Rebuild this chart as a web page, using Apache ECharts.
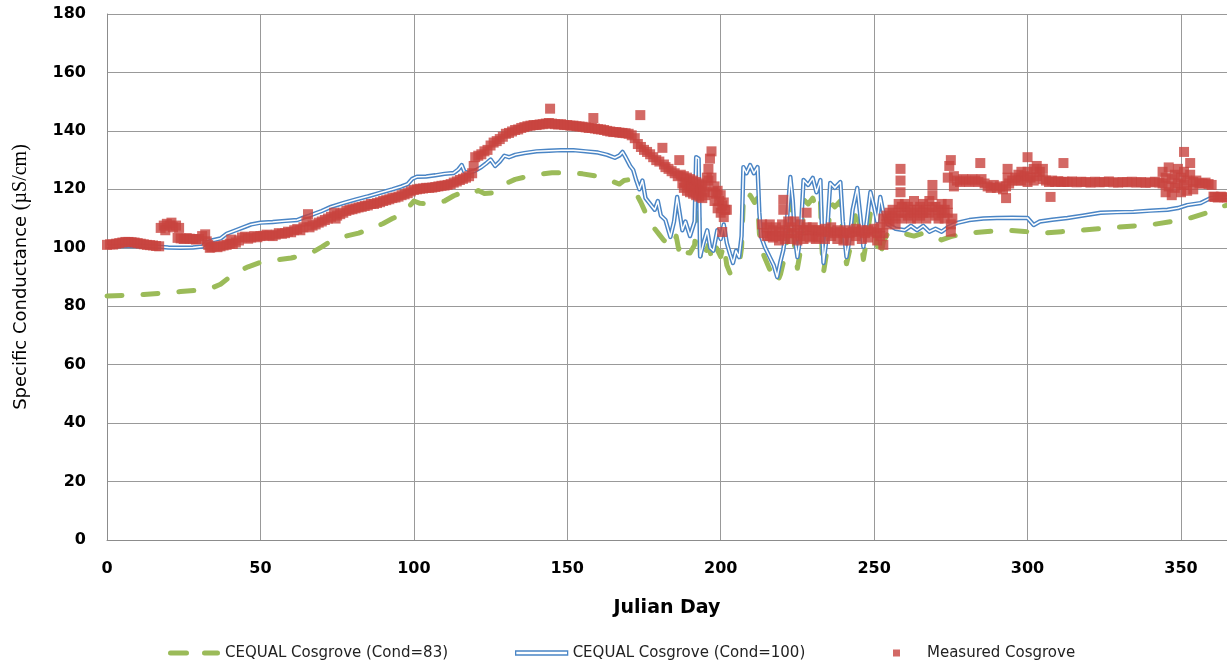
<!DOCTYPE html>
<html>
<head>
<meta charset="utf-8">
<title>Specific Conductance – Cosgrove</title>
<script src="https://cdn.jsdelivr.net/npm/echarts@6/dist/echarts.min.js"></script>
<style>
  html, body { margin: 0; padding: 0; background: #fff; }
  #chart { width: 1227px; height: 662px; }
</style>
</head>
<body>
<div id="chart"></div>
<script>
// Axis ranges and tick spacing
const dayMin = 0, dayMax = 365, dayStep = 50;
const condMin = 0, condMax = 180, condStep = 20;

// Modelled specific conductance, initial condition 83 µS/cm  [julian day, value]
const cond83 = [
  [0,83.5],[6,83.7],[12,84],[18,84.5],[24,85],[30,85.5],[34,86.2],[37,87.5],[40,90],[43,92],[46,93.5],[50,95],
  [55,95.8],[60,96.5],[64,97.5],[67,98.5],[70,100.3],[73,102.3],[77,103.8],[82,105],[86,106.5],[90,108.3],[93,110],
  [96,111.5],[98,113.5],[100,116],[102,115.2],[106,115],[110,116],[113,117.8],[116,119],[119,118.5],[121,119.6],
  [123,118.6],[126,118.8],[128,120.6],[130,122],[133,123.4],[137,124.4],[141,125.2],[145,125.7],[150,125.7],
  [155,125.3],[159,124.6],[162,123.8],[165,122.6],[167,121.8],[168.5,123],[170,123.3],[171.3,121],[172.5,118.5],
  [174,115.5],[175.5,112],[177,108.5],[178.5,106.5],[180,104.5],[181.5,102.5],[183,101.5],[184.5,100.3],[185.5,104],
  [186.3,99.5],[187.5,102],[188.5,98.5],[190,98.2],[191.5,101],[192.2,112],[192.9,110],[193.5,94.8],[195,98],
  [196,101],[197.3,95.5],[198.6,100],[200,97],[201,101],[202,94],[203,91.4],[204.5,92],[206,94],[206.8,100],
  [207.4,117],[208.5,115.5],[209.6,118],[211,115.5],[212,117],[212.6,105],[213.4,99],[214.6,96],[216,92.5],
  [217.3,90.5],[218.4,88],[219.5,91],[220.4,95],[221.5,102],[222.7,116],[223.6,109],[224.2,98],[225,93],[226,99],
  [227,116.5],[228.5,115],[230,117],[231.2,113],[232.5,116],[233,100],[233.5,91.5],[234.6,99],[235.7,115.5],
  [237.2,114],[239,116],[239.8,103],[241,94.5],[242,99],[243,107],[244.5,114],[245.5,105],[246.5,96],[247.6,103],
  [248.8,112],[250,107],[251,101],[252,96.5],[253,102],[254.5,105],[257,104.5],[260,104.8],[263,104],[266,105],
  [269,104],[272,102.7],[275,103.8],[280,105],[286,105.5],[293,106],[299,105.6],[305,105],[311,105.5],[317,106],
  [323,106.5],[329,107],[335,107.5],[341,108],[347,109],[353,110.2],[358,111.8],[363,114],[365,114.6]
];

// Modelled specific conductance, initial condition 100 µS/cm  [julian day, value]
const cond100 = [
  [0,100.5],[4,100.6],[8,100.7],[12,100.6],[16,100.4],[20,100.1],[24,100.0],[28,100.1],[31,100.4],[32.5,101.8],
  [34.5,102.6],[37,103.2],[39,104.8],[42,106],[44.5,107],[47,108],[50,108.6],[54,108.8],[58,109.2],[62,109.5],
  [64,110.3],[66,111],[68,111.8],[70,112.6],[73,114],[77,115.3],[81,116.5],[85,117.6],[89,118.8],[93,120],[96,121],
  [98,121.8],[99.5,123.6],[101,124.3],[104,124.4],[107,124.8],[110,125.3],[113,125.6],[114.5,126.8],[115.6,128.3],
  [116.5,126],[118,125.6],[120,126.4],[122,127.6],[123.5,128.8],[125,130.2],[126.5,128],[128,129.5],[129.5,131.5],
  [131,131],[133,131.8],[136,132.4],[140,133],[144,133.2],[148,133.4],[152,133.4],[156,133],[160,132.6],[163,131.8],
  [165.5,130.8],[167,131.6],[168,132.8],[169,131],[170.5,128],[171.5,126.6],[172.5,123],[173.5,120],[174.5,123],
  [175.5,117],[177,115],[178.5,113],[179.5,116],[180.5,111],[182,109.5],[183.6,103.7],[184.8,109],[185.8,117.4],
  [186.6,112],[187.5,106],[188.5,109],[190,104],[191.5,109],[192,131],[192.8,130.5],[193.3,97],[194.5,102],
  [195.6,106],[196.6,100],[197.6,99],[198.9,106],[200,103],[201,108],[202,101.6],[203,98],[204,94.8],[205,99],
  [206,96.8],[206.8,104],[207.4,127.6],[208.4,125.5],[209.6,128.3],[210.8,125.5],[212,127.6],[212.6,112],
  [213.2,103.7],[214.5,100],[216,96.8],[217.3,94],[218.4,90],[219.4,95],[220.4,99.2],[221.5,108],[222.7,124.2],
  [223.5,116],[224.2,103],[225,96.8],[226,104],[227,123.2],[228.5,121.5],[230,123.9],[231.2,119],[232.5,123.2],
  [233,106],[233.5,94.8],[234.6,104],[235.7,122.2],[237.2,120.5],[239,122.5],[239.8,109],[241,96.8],[242,103],
  [243,113],[244.5,120.5],[245.5,111],[246.5,100.3],[247.6,109],[248.8,119.1],[250,114],[251,109],[252,117.4],
  [253,112],[254.5,108],[257,106.5],[260,106],[262,107.5],[264,106],[266,107.5],[268,105.5],[270,106.5],[272,105.5],
  [274,107],[277,108.5],[281,109.5],[285.6,110],[290,110.2],[295,110.3],[300,110.2],[302,107.8],[304,109],[308,109.6],
  [313,110.2],[318,111],[323.8,112],[329,112.2],[334.6,112.3],[340,112.7],[345.6,113],[349,113.6],[352,114.6],
  [356.4,115.3],[359.6,117],[365,117.4]
];

// Measured specific conductance at Cosgrove  [julian day, value]
const measured = [
  [0,101],[1,101.2],[2,101.1],[3,101.4],[4,101.6],[5,101.8],[6,102],[7,102],[8,101.9],[9,101.8],[10,101.6],
  [11,101.4],[12,101.2],[13,101],[14,100.9],[15,100.8],[16,100.6],[17,100.5],
  [17.5,106.8],[18.5,107.6],[19.5,108.2],[20.5,107.6],[21.5,107],[22.5,107.6],[23.5,106.8],[19,106],[21,108.6],
  [23,103.4],[24,103.2],[25,103],[26,103.3],[27,103.1],[28,103],[29,102.8],[30,103],[31,104],[32,104.6],[32.5,102.2],
  [33,101],[33.5,100],[34,100.2],[35,100.5],[36,100.2],[37,100.5],[38,100.8],[39,101],[40,101.4],[40.5,102.8],
  [41,101.3],[42,101.8],[43,102.5],[44,103.5],[45,103.8],[46,103.1],[47,103.5],[48,104],[49,103.6],[50,104],
  [51,104.1],[52,104.5],[53,104.2],[54,104],[55,104.5],[56,105],[57,104.8],[58,105],[59,105.5],[60,105.3],[61,106],
  [62,106.4],[63,106],[64,107],[65,109],[65.5,111.5],[66,107],[67,107.6],[68,108],[69,108.6],[70,109],[71,109.5],
  [72,110],[73,110.6],[74,112],[74.5,110],[75,111],[76,111.5],[77,112],[78,112.6],[79,113],[80,113.2],[81,113.5],
  [82,113.8],[83,114],[84,114.3],[85,114.5],[86,115],[87,115],[88,115.3],[89,115.6],[90,116],[91,116.3],[92,116.6],
  [93,117],[94,117.2],[95,117.5],[96,118],[97,118.3],[98,118.7],[99,119.3],[100,119.8],[101,120],[102,120.2],
  [103,120.3],[104,120.5],[105,120.5],[106,120.6],[107,120.8],[108,121],[109,121.2],[110,121.3],[111,121.5],
  [112,121.8],[113,122.3],[114,122.7],[115,123.2],[116,123.6],[117,124],[118,124.5],[119,125.5],[119.5,128],
  [120,131],[121,131.5],[122,132],[123,133],[124,133.5],[125,135],[126,136],[127,136.5],[128,137.2],[129,138],
  [130,139],[131,139.3],[132,139.8],[133,140.3],[134,140.5],[135,141],[136,141.3],[137,141.6],[138,141.8],[139,142],
  [140,142],[141,142.2],[142,142.3],[143,142.5],[144,142.7],[144.4,147.6],[145,142.5],[146,142.3],[147,142.2],
  [148,142.3],[149,142],[150,142],[151,141.8],[152,141.8],[153,141.6],[154,141.5],[155,141.4],[156,141.2],[157,141],
  [158,141],[158.5,144.4],[159,140.8],[160,140.6],[161,140.5],[162,140.3],[163,140],[164,139.8],[165,139.6],
  [166,139.6],[167,139.4],[168,139.3],[169,139.2],[170,139],[171,138.5],[172,137.5],[173,135.5],[173.8,145.4],
  [174,134.5],[175,133.5],[176,132.8],[177,132],[178,131],[179,130],[180,129.5],[181,134.2],[181.5,128.5],
  [182,127.6],[183,127],[184,126.2],[185,125.5],[186,124.5],[186.5,130],[187,125],[187.5,122],[188,124.5],[188,120.5],
  [188.5,122.5],[189,124],[189,119.5],[189.5,121.5],[190,123.5],[190,119],[190.5,121],[191,123],[191,118.5],
  [191.5,120.5],[192,122.5],[192,118],[192.5,120],[193,122],[193,117.5],[193.5,119.5],[194,121.5],[194,117],
  [194.5,119],[195,121],[195,118],[195.5,124],[196,123],[196,127],[196.5,130.5],[197,133],[197,124],[197.5,119],
  [198,121],[198,116],[198.5,118.5],[199,119.5],[199,113.5],[199.5,116],[200,118],[200,112],[200.5,114.5],
  [201,115.5],[201,110.5],[201.5,113],[202,113],[200.5,105.4],
  [213.5,108],[214,105],[215,107],[215,104],[216,108],[216,104],[217,106],[217,103.5],[218,107],[218,104],
  [219,105.5],[219,102.5],[220,108],[220,104],[220.4,116.4],[220.4,113],[221,106],[221,103],[222,109],[222,105],
  [223,107],[223,103],[224,109],[224,105],[225,106],[225,102.5],[226,108],[226,104],[227,106],[227,103],[228,112],
  [228,107],[229,106],[229,103.5],[230,107],[230,104],[231,106],[231,103],[232,106],[232,103.5],[233,105.5],
  [234,106.5],[234,103],[235,105.5],[236,107],[236,104],[237,105],[238,106],[238,103],[239,105.5],[240,105],
  [240,102.5],[241,106],[242,105],[242,102.5],[243,105.5],[244,106.5],[244,104],[245,105.5],[246,106],[246,103],
  [247,105],[248,106],[248,103.5],[249,105.5],[250,106.5],[251,105],[251,102.5],[252,107],[252,104],[253,110],
  [253,105],[253,101],[254,108],[254,111],[255,109],[255,112],[256,110],[256,113],[257,111],[257,108],[258,112],
  [258,115],[258.6,119],[258.6,123],[258.6,127],[259,114],[259,110],[260,112],[260,115],[261,111],[261,114],
  [262,110],[262,113],[263,112],[263,116],[264,110],[264,113],[265,111],[265,114],[266,112],[266,115],[267,110],
  [267,113],[268,112],[268,116],[269,114],[269,118],[269,121.5],[270,111],[270,114],[271,110],[271,113],[272,112],
  [272,115],[273,110],[273,113],[274,112],[274,115],[274,124],[274.5,128],[275,130],[275,108],[275,105.5],
  [275.5,110],[276,121],[276,124.5],[277,123],[278,122.5],[279,123.5],[280,123],[281,122.5],[282,123.5],[283,123],
  [284,122.5],[284.6,129],[285,123.5],[286,122],[287,121],[288,120.5],[289,121.5],[290,120.5],[291,121],[292,120],
  [293,117],[293,121],[293.5,124],[293.5,127],[294,122],[295,123],[296,124],[297,125],[297,123],[298,126],[298,123],
  [299,124.5],[300,131],[300,126],[300,122.5],[301,124],[302,127],[302,123],[303,128],[303,124.5],[304,126],
  [305,123.5],[305,127],[306,123],[307,122.5],[307.5,117.4],[308,123],[309,122.5],[310,122.8],[311,122.5],
  [311.7,129],[312,122.6],[313,122.5],[314.5,122.7],[316,122.4],[317.5,122.6],[319,122.5],[320.5,122.3],
  [322,122.6],[323.5,122.4],[325,122.5],[326.5,122.7],[328,122.4],[329.5,122.3],[331,122.5],[332.5,122.4],
  [334,122.6],[335.5,122.3],[337,122.5],[338.5,122.2],[340,122.4],[341.5,122.6],[343,122.3],
  [344,122],[344,126],[345,124],[345,119],[346,127.5],[346,121],[347,123.5],[347,118],[348,125],[348,120.5],
  [349,122],[349,127],[350,119],[350,124],[351,132.8],[351,121.5],[351,126],[352,123],[352,119.5],[353,129],
  [353,125],[354,122.5],[354,120],[355,123],[356,122],[357,122],[358,122.3],[359,121.8],[360,121.5],[360.6,117.5],
  [361,117.4],[362,117.2],[363,117.5],[364,117.3],[365,117.2]
];

const seriesNames = ['CEQUAL Cosgrove (Cond=83)', 'CEQUAL Cosgrove (Cond=100)', 'Measured Cosgrove'];
const colors = { green: '#9bbb59', blue: '#4a85c5', red: '#c8433f' };

const chart = echarts.init(document.getElementById('chart'), null, { renderer: 'canvas' });

const tickFont = { fontFamily: 'DejaVu Sans', fontWeight: 'bold', fontSize: 16, color: '#000' };
const legendText = { fontFamily: 'DejaVu Sans', fontSize: 15, color: '#222', lineHeight: 16 };

chart.setOption({
  animation: false,
  backgroundColor: '#fff',
  grid: { left: 107, top: 14, right: 0, bottom: 122, containLabel: false },
  xAxis: {
    type: 'value',
    min: dayMin, max: dayMax, interval: dayStep,
    name: 'Julian Day',
    nameLocation: 'middle',
    nameGap: 59,
    nameTextStyle: { fontFamily: 'DejaVu Sans', fontWeight: 'bold', fontSize: 19, color: '#000' },
    axisLine: { show: true, lineStyle: { color: '#8c8c8c', width: 1 } },
    axisTick: { show: false },
    axisLabel: Object.assign({ margin: 21, showMaxLabel: false }, tickFont),
    splitLine: { show: true, lineStyle: { color: '#999', width: 1 } }
  },
  yAxis: {
    type: 'value',
    min: condMin, max: condMax, interval: condStep,
    name: '{a|Specific Conductance }{b|(µS/cm)}',
    nameLocation: 'middle',
    nameGap: 76,
    nameTextStyle: {
      color: '#000',
      rich: {
        a: { fontFamily: 'DejaVu Sans', fontSize: 18, color: '#000' },
        b: { fontFamily: 'Liberation Serif', fontSize: 20, color: '#000' }
      }
    },
    axisLine: { show: true, lineStyle: { color: '#8c8c8c', width: 1 } },
    axisTick: { show: false },
    axisLabel: Object.assign({ margin: 21 }, tickFont),
    splitLine: { show: true, lineStyle: { color: '#999', width: 1 } }
  },
  legend: [
    {
      left: 163, top: 640, itemWidth: 52, itemHeight: 5, selectedMode: false,
      textStyle: legendText,
      data: [{
        name: seriesNames[0],
        icon: 'path://M2.5,0H18.5A2.5,2.5,0,0,1,18.5,5H2.5A2.5,2.5,0,0,1,2.5,0Z M36.5,0H49.5A2.5,2.5,0,0,1,49.5,5H36.5A2.5,2.5,0,0,1,36.5,0Z',
        itemStyle: { color: colors.green, borderWidth: 0 }
      }]
    },
    {
      left: 510, top: 640, itemWidth: 52, itemHeight: 4, selectedMode: false,
      textStyle: legendText,
      data: [{
        name: seriesNames[1],
        icon: 'rect',
        itemStyle: { color: '#fff', borderColor: colors.blue, borderWidth: 1.3 }
      }]
    },
    {
      left: 888, top: 640, itemWidth: 7, itemHeight: 7, selectedMode: false,
      textStyle: Object.assign({ padding: [0, 0, 0, 22] }, legendText),
      data: [{ name: seriesNames[2], icon: 'rect', itemStyle: { color: colors.red } }]
    }
  ],
  series: [
    {
      name: seriesNames[0], type: 'line', data: cond83, symbol: 'none', z: 2,
      lineStyle: { color: colors.green, width: 5, type: [15, 21], cap: 'round', join: 'round' },
      itemStyle: { color: colors.green }
    },
    {
      name: seriesNames[1], type: 'line', data: cond100, symbol: 'none', z: 3,
      lineStyle: { color: colors.blue, width: 4.4, join: 'round' },
      itemStyle: { color: colors.blue }
    },
    {
      // white core that turns the blue stroke into a double line
      name: seriesNames[1], type: 'line', data: cond100, symbol: 'none', z: 4,
      lineStyle: { color: '#ffffff', width: 1.5, join: 'round' },
      itemStyle: { color: colors.blue }
    },
    {
      name: seriesNames[2], type: 'scatter', data: measured, symbol: 'rect', symbolSize: 10, z: 5,
      itemStyle: { color: colors.red }
    }
  ]
});
</script>
</body>
</html>
